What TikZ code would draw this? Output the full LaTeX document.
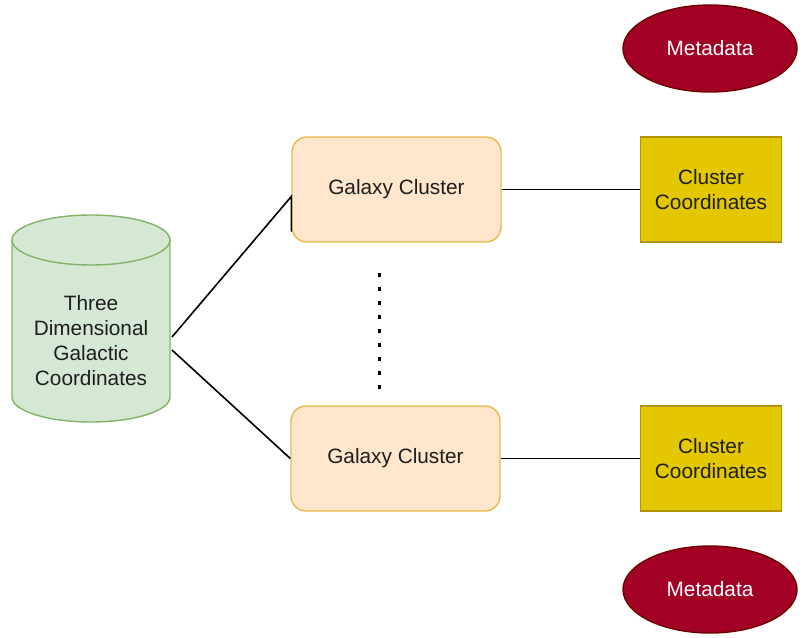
\documentclass[tikz,border=0pt]{standalone}
\usepackage{fontspec}
\setmainfont{Liberation Sans}
\usetikzlibrary{shapes.geometric}
\definecolor{cylfill}{HTML}{D5E8D4}
\definecolor{cyldraw}{HTML}{82B366}
\definecolor{gcfill}{HTML}{FFE6CC}
\definecolor{gcdraw}{HTML}{E8B84A}
\definecolor{ccfill}{HTML}{E3C800}
\definecolor{ccdraw}{HTML}{B09500}
\definecolor{mdfill}{HTML}{A20025}
\definecolor{mddraw}{HTML}{6F0000}
\definecolor{txt}{HTML}{1E1E1E}
\begin{document}
\begin{tikzpicture}[x=1pt,y=-1pt,
  every node/.style={font=\fontsize{20.8}{25}\selectfont, text=txt},
  cluster/.style={draw=gcdraw, fill=gcfill, line width=1.4pt, rounded corners=15pt,
    minimum width=209pt, minimum height=105pt, inner sep=0pt},
  coordbox/.style={draw=ccdraw, fill=ccfill, line width=1.4pt,
    minimum width=141pt, minimum height=105pt, inner sep=0pt, align=center},
  meta/.style={ellipse, draw=mddraw, fill=mdfill, line width=1.4pt, text=white,
    minimum width=174pt, minimum height=87pt, inner sep=0pt},
  link/.style={draw=black, line width=1.6pt}]
\useasboundingbox (0,0) rectangle (802,637);

% database cylinder
\filldraw[fill=cylfill, draw=cyldraw, line width=1.4pt]
  (12,240) -- (12,397) arc[start angle=180, end angle=360, x radius=79pt, y radius=25pt]
  -- (170,240) -- cycle;
\filldraw[fill=cylfill, draw=cyldraw, line width=1.4pt]
  (91,240) ellipse[x radius=79pt, y radius=25pt];
\node[align=center] (cyl) at (91,341) {Three\\Dimensional\\Galactic\\Coordinates};
\coordinate (c1) at (172,337);
\coordinate (c2) at (172,350);

% galaxy clusters
\node[cluster] (gc1) at (396.5,189.5) {Galaxy Cluster};
\node[cluster] (gc2) at (395.5,458.5) {Galaxy Cluster};

% cluster coordinates
\node[coordbox] (cc1) at (711,189.5) {Cluster\\Coordinates};
\node[coordbox] (cc2) at (711,458.5) {Cluster\\Coordinates};

% metadata
\node[meta] (md1) at (710,48.5) {Metadata};
\node[meta] (md2) at (710,589.5) {Metadata};

% connectors
\draw[link] (c1) -- ([yshift=-7pt]gc1.west) -- ([yshift=-42pt]gc1.west);
\draw[link] (c2) -- (gc2.west);
\draw[link] (gc1.east) -- (cc1.west);
\draw[link] (gc2.east) -- (cc2.west);

% ellipsis between the clusters
\foreach \yy in {275,289,303,317,331,345,359,373,387}
  \fill[black] (377.6,\yy-1.6) rectangle (380.8,\yy+1.6);
\end{tikzpicture}
\end{document}
